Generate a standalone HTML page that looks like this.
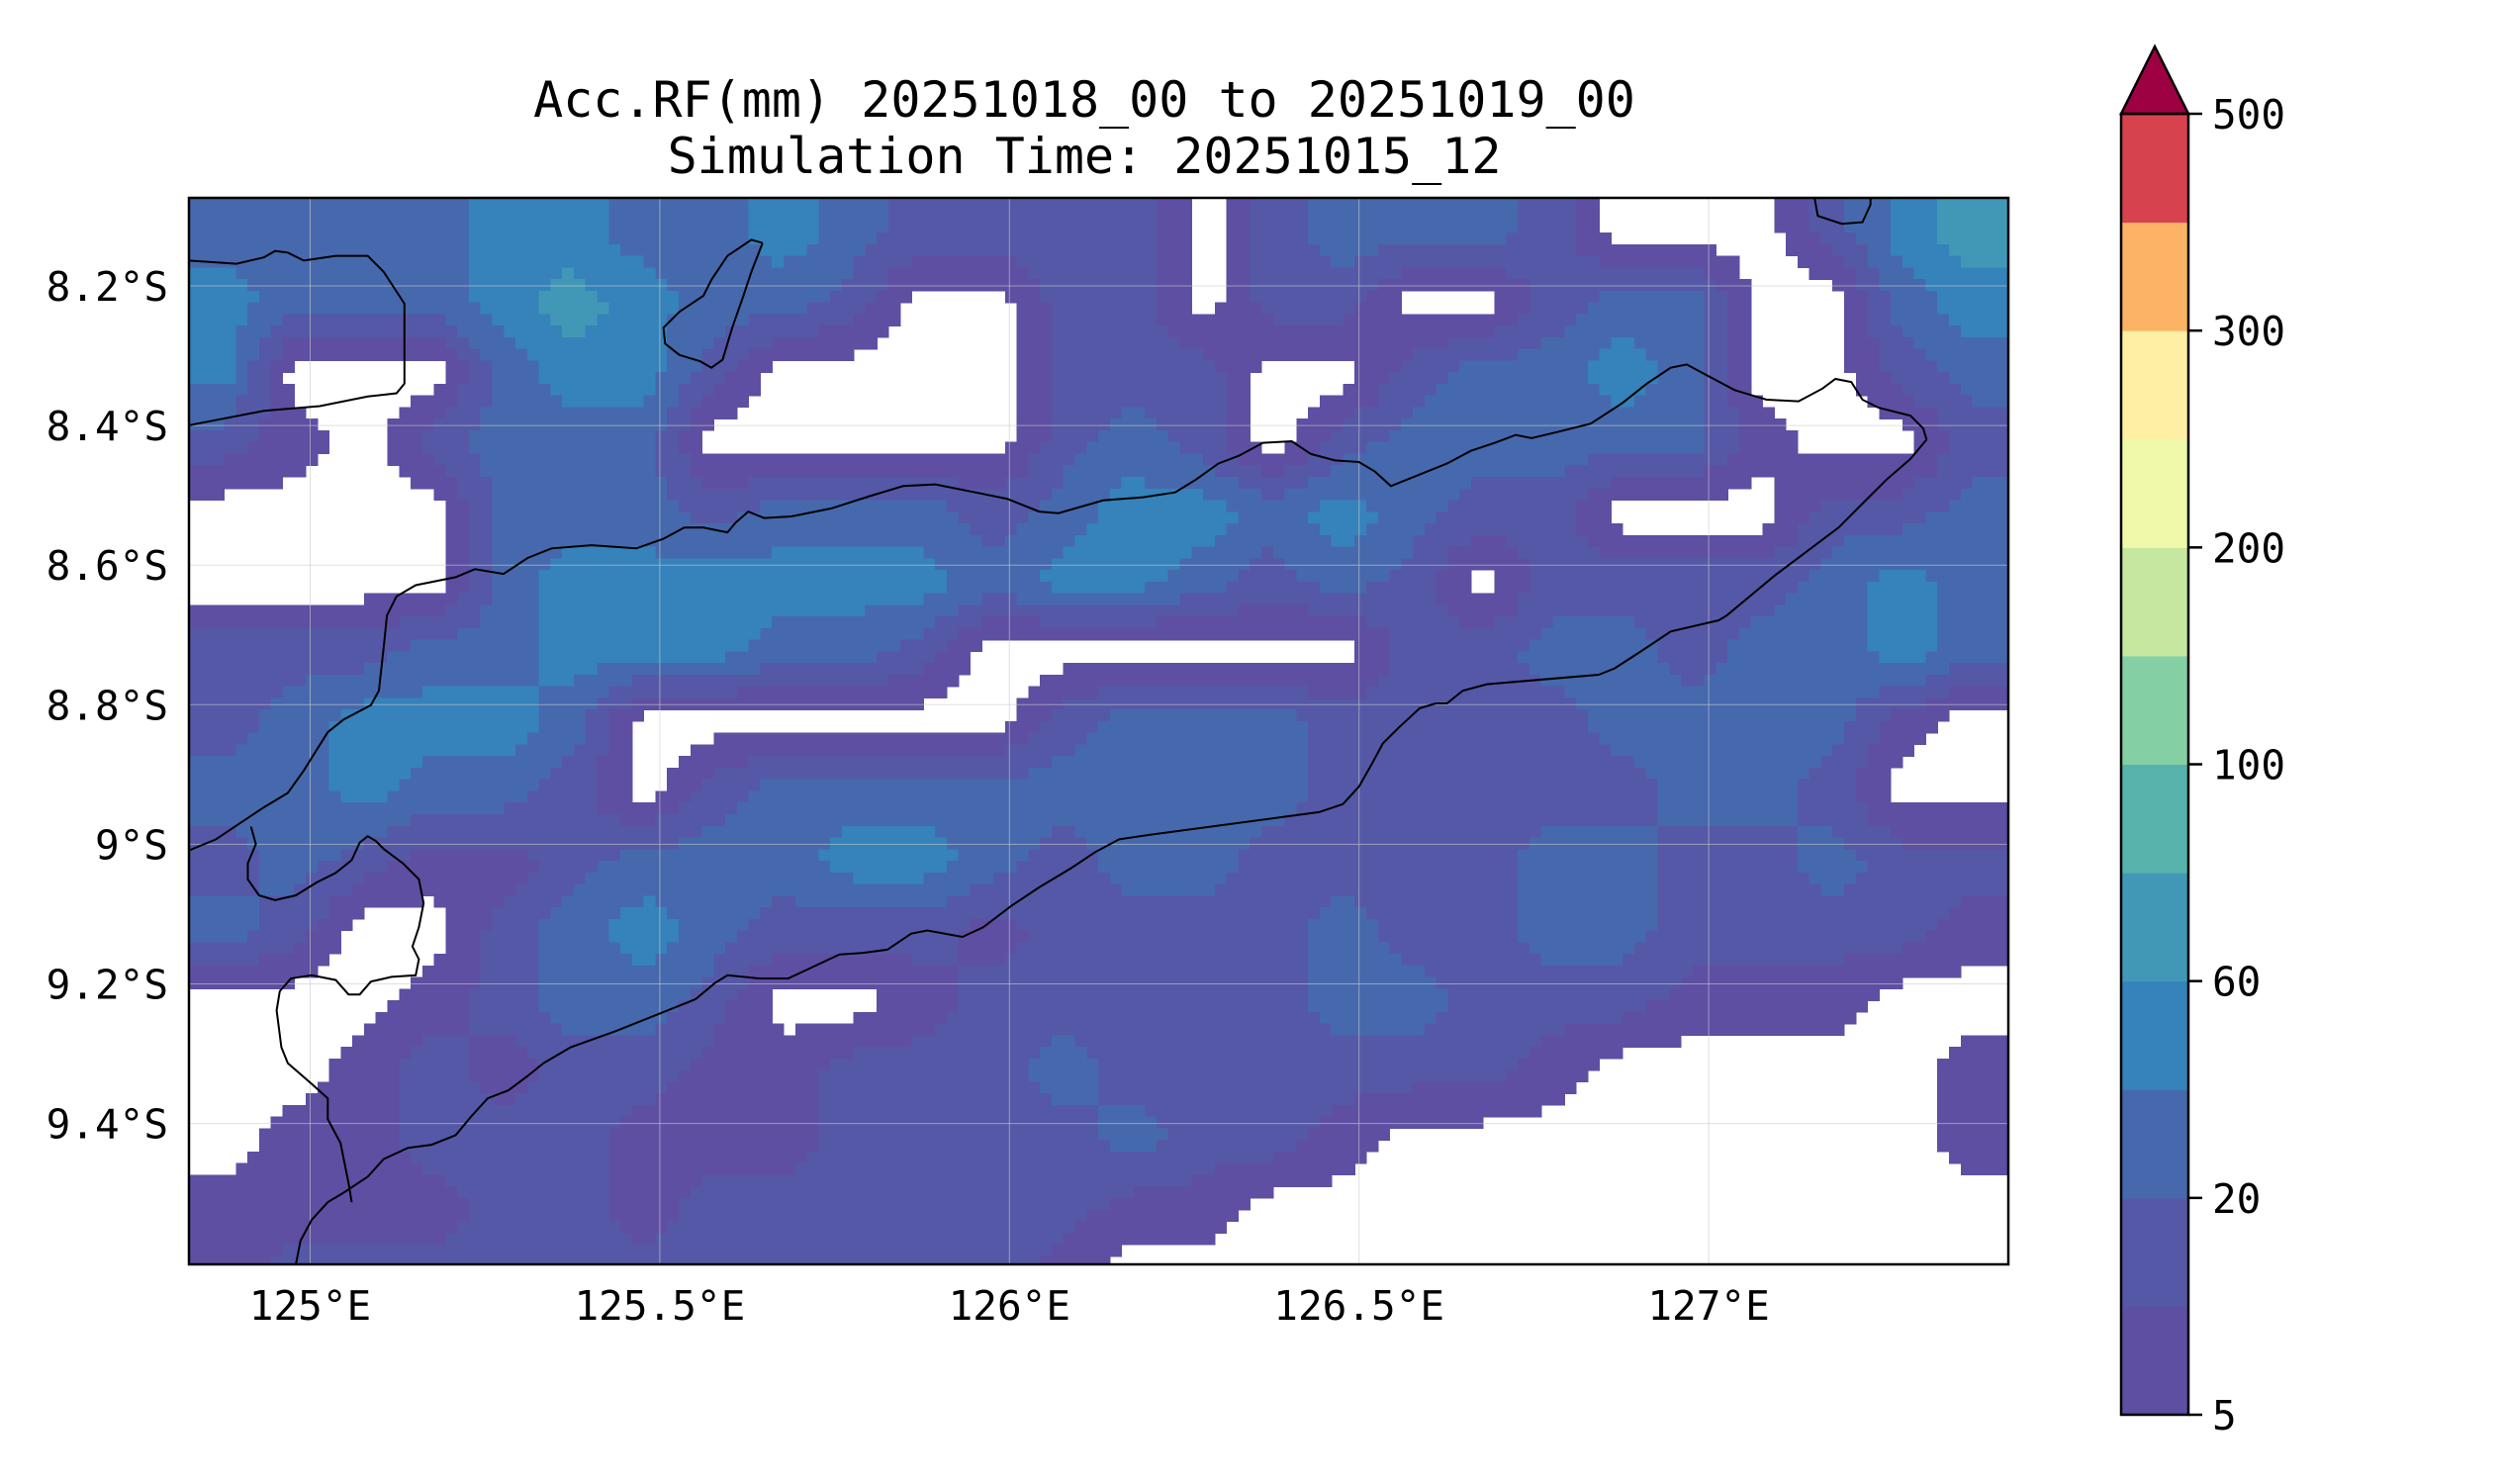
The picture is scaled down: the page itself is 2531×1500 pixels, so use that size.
<!DOCTYPE html>
<html><head><meta charset="utf-8"><style>
html,body{margin:0;padding:0;background:#fff;}
svg{display:block;font-family:"DejaVu Sans Mono","Liberation Mono",monospace;}
</style></head><body>
<svg id="chart" width="2531" height="1500" viewBox="0 0 2531 1500">
<text x="1096" y="118" font-size="50" text-anchor="middle">Acc.RF(mm) 20251018_00 to 20251019_00</text>
<text x="1096" y="175" font-size="50" text-anchor="middle">Simulation Time: 20251015_12</text>
<defs><clipPath id="pc"><rect x="191" y="200" width="1839" height="1078"/></clipPath></defs>
<g id="cells" clip-path="url(#pc)" shape-rendering="crispEdges"></g>
<g id="grid"></g>
<g id="coast" clip-path="url(#pc)"></g>
<rect x="191" y="200" width="1839" height="1078" fill="none" stroke="#000" stroke-width="2.5"/>
<g id="xt"></g>
<g id="yt"></g>
<g id="cbar"></g>
</svg>
<script>
const levels=[5,10,20,40,60,80,100,150,200,250,300,400,500];
const colors=["#5e4fa2","#5558a6","#4669ad","#3682ba","#4198b6","#59b3ad","#85cfa5","#c5e7a0","#f0f8a9","#feefa5","#fdb365","#d7424f"];
const overColor="#9e0142";
const cbTickLabels=["5","20","60","100","200","300","500"];
const cbTickIdx=[0,2,4,6,8,10,12];
const xTicks=[125,125.5,126,126.5,127];
const xTickLabels=["125°E","125.5°E","126°E","126.5°E","127°E"];
const yTicks=[8.2,8.4,8.6,8.8,9.0,9.2,9.4];
const yTickLabels=["8.2°S","8.4°S","8.6°S","8.8°S","9°S","9.2°S","9.4°S"];
const lonStart=124.827, latStart=8.074, step=0.1;
const rain0=[30,30,30,30,50,50,30,30,50,30,15,15,15,15,2,15,30,30,30,15,2,2,2,15,50,70];
const rain1=[50,30,30,30,50,70,50,30,30,15,2,2,15,15,2,15,15,2,2,15,30,30,2,2,30,50];
const rain2=[50,2,2,2,30,50,50,15,2,2,2,2,15,15,15,2,2,15,30,30,50,30,2,2,15,30];
const rain3=[15,7,2,15,30,30,30,2,2,2,2,2,15,30,15,2,15,30,30,30,30,30,7,2,2,15];
const rain4=[2,2,2,2,30,30,30,15,30,30,30,15,30,50,50,30,50,30,15,15,2,2,2,15,15,30];
const rain5=[2,2,2,2,30,50,50,50,50,50,50,30,50,50,30,15,30,15,2,15,15,15,15,30,50,30];
const rain6=[15,15,15,30,30,50,50,50,30,30,15,2,2,2,2,2,2,15,15,30,30,15,30,30,50,30];
const rain7=[15,30,50,50,50,30,2,2,2,2,2,2,15,30,30,30,15,15,15,15,30,30,30,30,7,2];
const rain8=[30,30,50,30,30,15,2,15,30,30,30,30,30,30,30,30,15,15,15,15,15,30,30,15,2,2];
const rain9=[15,30,15,7,7,15,30,30,30,50,50,30,15,30,30,15,15,15,15,30,30,15,15,30,15,15];
const rain10=[30,15,2,2,15,30,50,30,15,15,15,7,15,15,15,15,30,15,15,30,30,15,15,15,15,7];
const rain11=[2,2,2,7,15,30,30,15,2,2,7,15,15,15,15,15,30,30,15,15,15,7,7,7,2,2];
const rain12=[2,2,7,15,7,15,15,7,7,15,15,15,30,15,15,15,15,15,15,7,2,2,2,2,2,7];
const rain13=[2,7,7,15,15,15,7,7,7,15,15,15,15,30,15,15,7,2,2,2,2,2,2,2,2,7];
const rain14=[7,7,7,7,15,15,7,15,15,15,15,15,15,7,7,2,2,2,2,2,2,2,2,2,2,2];
const rain15=[7,15,15,15,15,15,15,15,15,15,15,15,7,2,2,2,2,2,2,2,2,2,2,2,2,2];
const rows=[rain0,rain1,rain2,rain3,rain4,rain5,rain6,rain7,rain8,rain9,rain10,rain11,rain12,rain13,rain14,rain15];

const NS="http://www.w3.org/2000/svg";
function xOf(lon){return 313.5+(lon-125)*706.8;}
function yOf(lat){return 289+(lat-8.2)*705.5;}
function bandOf(v){
  let b=0;
  for(let i=0;i<levels.length;i++){if(v>=levels[i])b=i+1;}
  return b;
}
function mk(tag,attrs,parent){const e=document.createElementNS(NS,tag);for(const k in attrs)e.setAttribute(k,attrs[k]);parent.appendChild(e);return e;}
const bands=rows.map(r=>r.map(bandOf));
function bandAt(lon,lat){
  const nr=bands.length, nc=bands[0].length;
  let fj=(lon-lonStart)/step-0.5, fi=(lat-latStart)/step-0.5;
  fj=Math.max(0,Math.min(nc-1,fj)); fi=Math.max(0,Math.min(nr-1,fi));
  const j0=Math.floor(fj), i0=Math.floor(fi);
  const j1=Math.min(nc-1,j0+1), i1=Math.min(nr-1,i0+1);
  const a=fj-j0, b=fi-i0;
  const v=(1-a)*(1-b)*bands[i0][j0]+a*(1-b)*bands[i0][j1]+(1-a)*b*bands[i1][j0]+a*b*bands[i1][j1];
  return Math.floor(v+0.5);
}
function colorOfBand(b){
  if(b<=0)return null;
  if(b>colors.length)return overColor;
  return colors[b-1];
}

const cells=document.getElementById('cells');
const sub=6, nC=rows[0].length*sub, nR=rows.length*sub, ds=step/sub;
for(let i=0;i<nR;i++){
  const lat0=latStart+i*ds, lat1=lat0+ds;
  let runStart=0, runCol=null;
  for(let j=0;j<=nC;j++){
    const c = j<nC ? colorOfBand(bandAt(lonStart+(j+0.5)*ds, lat0+ds/2)) : "END";
    if(c!==runCol){
      if(runCol && runCol!=="END"){
        const x0=xOf(lonStart+runStart*ds), x1=xOf(lonStart+j*ds);
        const y0=yOf(lat0), y1=yOf(lat1);
        const r=mk('rect',{x:x0.toFixed(1),y:(y0-0.3).toFixed(1),width:(x1-x0+0.6).toFixed(1),height:(y1-y0+0.6).toFixed(1),fill:runCol},cells);
        
        
      }
      runCol=c; runStart=j;
    }
  }
}

const grid=document.getElementById('grid');
const xt=document.getElementById('xt');
xTicks.forEach((t,i)=>{
  const x=xOf(t);
  const g=mk('line',{x1:x,x2:x,y1:200,y2:1278,stroke:"#ccc","stroke-width":1,"stroke-opacity":0.6},grid);
  
  
  const tx=mk('text',{x:x,y:1334,"font-size":41,"text-anchor":"middle"},xt);
  tx.textContent=xTickLabels[i];
  
  
});
const yt=document.getElementById('yt');
yTicks.forEach((t,i)=>{
  const y=yOf(t);
  const g=mk('line',{x1:191,x2:2030,y1:y,y2:y,stroke:"#ccc","stroke-width":1,"stroke-opacity":0.6},grid);
  
  
  const tx=mk('text',{x:170,y:y+15,"font-size":41,"text-anchor":"end"},yt);
  tx.textContent=yTickLabels[i];
  
  
});

const k=1.616;
const coastA=[[118,266],[165,257],[200,254],[230,248],[248,246],[253,240],[253,190],[240,170],[230,160],[210,160],[190,163],[180,158],[172,157],[165,161],[148,165],[118,163]];
const coastB=[[477,152],[470,150],[455,160],[445,175],[440,185],[425,195],[415,205],[416,215],[425,222],[438,226],[445,230],[452,225],[458,205],[465,185],[470,170],[477,152]];
const coastC=[[118,532],[135,525],[150,515],[165,505],[180,496],[190,482],[205,458],[215,450],[232,441],[237,432],[240,405],[242,385],[248,373],[260,366],[285,361],[297,356],[315,359],[330,349],[345,343],[370,341],[398,343],[415,337],[428,330],[440,330],[455,333],[460,327],[468,320],[478,324],[495,323],[520,318],[545,310],[565,304],[585,303],[610,308],[630,312],[650,320],[662,321],[690,313],[715,311],[735,308],[748,300],[762,290],[775,285],[790,277],[808,276],[820,284],[835,288],[850,289],[860,295],[870,304],[885,298],[905,290],[920,282],[935,277],[948,272],[958,274],[975,270],[995,265],[1015,252],[1030,240],[1045,230],[1055,228],[1070,236],[1085,244],[1105,250],[1125,251],[1140,243],[1148,237],[1158,239],[1165,250],[1175,255],[1195,260],[1203,268],[1205,275],[1195,287],[1180,300],[1165,315],[1150,330],[1110,360],[1080,385],[1075,388],[1045,395],[1030,405],[1010,418],[1000,422],[930,428],[915,432],[905,440],[898,440],[888,443],[875,455],[865,465],[858,478],[850,492],[840,503],[825,508],[720,522],[700,525],[685,533],[670,543],[650,555],[632,567],[615,580],[602,586],[580,582],[570,584],[555,594],[540,596],[525,597],[510,604],[493,612],[475,612],[455,610],[447,615],[435,625],[410,635],[385,645],[357,655],[340,665],[330,673],[318,682],[305,687],[295,698],[285,710],[270,716],[255,718],[240,725],[230,736],[215,746],[205,752],[195,763],[188,776],[185,791]];
const coastD=[[157,517],[160,528],[155,540],[155,550],[162,560],[172,563],[185,560],[198,552],[210,546],[220,538],[225,527],[230,523],[235,526],[240,531],[252,540],[262,550],[265,565],[262,580],[258,592],[262,600],[260,610],[245,611],[232,614],[225,622],[218,622],[210,613],[195,610],[182,612],[175,620],[173,632],[176,655],[180,665],[195,678],[205,687],[205,700],[213,715],[218,740],[220,752]];
const coastE=[[1135,124],[1137,135],[1152,140],[1165,139],[1170,128],[1170,124]];
const coast=document.getElementById('coast');
[coastA,coastB,coastC,coastD,coastE].forEach(pts=>{
  const p=mk('polyline',{points:pts.map(q=>(q[0]*k).toFixed(1)+","+(q[1]*k).toFixed(1)).join(" "),fill:"none",stroke:"#000","stroke-width":2},coast);
  
  
});

const cb=document.getElementById('cbar');
const cbX=2144, cbW=68, cbTop=115, cbBot=1430;
const bandH=(cbBot-cbTop)/colors.length;
colors.forEach((c,i)=>{
  const r=mk('rect',{x:cbX,y:cbBot-(i+1)*bandH-0.5,width:cbW,height:bandH+1,fill:c},cb);
  
  
});
const arrow=mk('polygon',{points:`${cbX},${cbTop} ${cbX+cbW/2},${cbTop-68} ${cbX+cbW},${cbTop}`,fill:overColor,stroke:"#000","stroke-width":2.5},cb);


const frame=mk('rect',{x:cbX,y:cbTop,width:cbW,height:cbBot-cbTop,fill:"none",stroke:"#000","stroke-width":2.5},cb);


cbTickIdx.forEach((idx,i)=>{
  const y=cbBot-idx*bandH;
  mk('line',{x1:cbX+cbW,x2:cbX+cbW+14,y1:y,y2:y,stroke:"#000","stroke-width":2.5},cb);
  const t=mk('text',{x:cbX+cbW+24,y:y+15,"font-size":41},cb);
  t.textContent=cbTickLabels[i];
  
  
});
</script>
</body></html>
